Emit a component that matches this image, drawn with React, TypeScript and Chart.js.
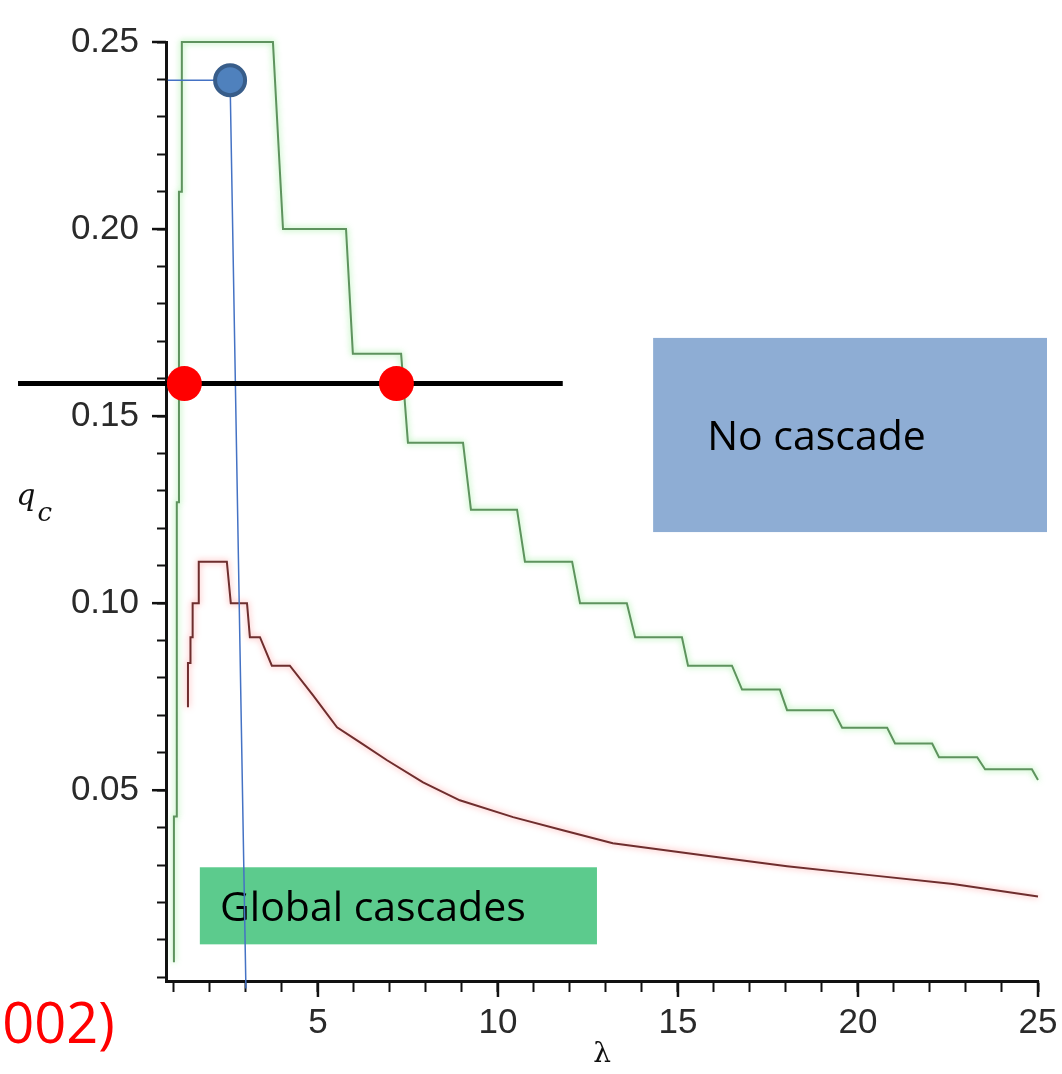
import { useEffect, useRef } from 'react';
import { Chart, registerables } from 'chart.js';

Chart.register(...registerables);

// ---- data (λ, q_c) ----
const greenLambda = [1.0, 1.0, 1.08, 1.08, 1.14, 1.14, 1.22, 1.22, 3.75, 4.03, 5.78, 5.97, 7.31, 7.5, 9.03, 9.25, 10.53, 10.75, 12.06, 12.28, 13.58, 13.81, 15.11, 15.28, 16.5, 16.78, 17.83, 18.03, 19.31, 19.56, 20.81, 21.03, 22.06, 22.25, 23.31, 23.53, 24.83, 25.0];
const greenQc = [0.004, 0.043, 0.043, 0.127, 0.127, 0.21, 0.21, 0.25, 0.25, 0.2, 0.2, 0.1667, 0.1667, 0.1429, 0.1429, 0.125, 0.125, 0.1111, 0.1111, 0.1, 0.1, 0.0909, 0.0909, 0.0833, 0.0833, 0.0769, 0.0769, 0.0714, 0.0714, 0.0667, 0.0667, 0.0625, 0.0625, 0.0588, 0.0588, 0.0556, 0.0556, 0.0527];

const redLambda = [1.39, 1.39, 1.46, 1.46, 1.52, 1.52, 1.69, 1.69, 2.47, 2.58, 3.03, 3.11, 3.39, 3.72, 4.22, 4.86, 5.53, 6.17, 6.92, 7.92, 8.94, 10.42, 11.8, 13.19, 15.69, 18.03, 20.33, 22.64, 25.0];
const redQc = [0.0722, 0.084, 0.084, 0.0909, 0.0909, 0.1, 0.1, 0.1111, 0.1111, 0.1, 0.1, 0.0909, 0.0909, 0.0833, 0.0833, 0.0754, 0.0668, 0.0628, 0.058, 0.0521, 0.0473, 0.0428, 0.0393, 0.0358, 0.0326, 0.0297, 0.0273, 0.0249, 0.0216];

const thresholdLambda = [-3.33, 11.8];
const thresholdQc = [0.1587, 0.1587];
const crossingLambda = [1.29, 7.18];
const crossingQc = [0.1587, 0.1587];
const guideLambda = [0.83, 2.56, 3.0];
const guideQc = [0.2398, 0.2398, -0.003];
const markerLambda = [2.56];
const markerQc = [0.2398];

// ---- ticks ----
const xTickValues = [1, 2, 3, 4, 5, 6, 7, 8, 9, 10, 11, 12, 13, 14, 15, 16, 17, 18, 19, 20, 21, 22, 23, 24, 25];
const xLabelValues = [5, 10, 15, 20, 25];
const xTickLabels = ['5', '10', '15', '20', '25'];
const yTickValues = [0, 0.01, 0.02, 0.03, 0.04, 0.05, 0.06, 0.07, 0.08, 0.09, 0.1, 0.11, 0.12, 0.13, 0.14, 0.15, 0.16, 0.17, 0.18, 0.19, 0.2, 0.21, 0.22, 0.23, 0.24, 0.25];
const yLabelValues = [0.05, 0.1, 0.15, 0.2, 0.25];
const yTickLabels = ['0.05', '0.10', '0.15', '0.20', '0.25'];

// ---- annotations (data units) ----
const noCascadeBox = [14.31, 25.25, 0.119, 0.1709];
const noCascadeText = { text: 'No cascade', x: 15.81, y: 0.1409 };
const globalBox = [1.72, 12.75, 0.0088, 0.0294];
const globalText = { text: 'Global cascades', x: 2.28, y: 0.015 };
const citation = { text: '(2002)', x: -0.64, y: -0.0177 };
const yTitle = { main: 'q', sub: 'c', x: -3.38, y: 0.1262 };

const pts = (xs: number[], ys: number[]) => xs.map((x, i) => ({ x, y: ys[i] }));
const findIdx = (arr: number[], v: number) => arr.findIndex((a) => Math.abs(a - v) < 1e-9);

const overlayPlugin = {
  id: 'overlay',
  beforeDatasetDraw(chart: any, args: any) {
    const ds = chart.data.datasets[args.index];
    if (ds.glow) {
      chart.ctx.save();
      chart.ctx.shadowColor = ds.glow;
      chart.ctx.shadowBlur = 6;
    }
  },
  afterDatasetDraw(chart: any, args: any) {
    const ds = chart.data.datasets[args.index];
    if (ds.glow) chart.ctx.restore();
  },
  beforeDatasetsDraw(chart: any) {
    const { ctx, scales } = chart;
    const x = scales.x;
    const y = scales.y;
    ctx.save();
    const box = (b: number[], color: string) => {
      const x0 = x.getPixelForValue(b[0]);
      const x1 = x.getPixelForValue(b[1]);
      const y0 = y.getPixelForValue(b[3]);
      const y1 = y.getPixelForValue(b[2]);
      ctx.fillStyle = color;
      ctx.fillRect(x0, y0, x1 - x0, y1 - y0);
    };
    box(noCascadeBox, '#8EADD4');
    box(globalBox, '#5CCB8D');
    ctx.fillStyle = '#000';
    ctx.font = '41px "Open Sans"';
    ctx.textAlign = 'left';
    ctx.textBaseline = 'alphabetic';
    ctx.fillText(noCascadeText.text, x.getPixelForValue(noCascadeText.x), y.getPixelForValue(noCascadeText.y));
    ctx.fillText(globalText.text, x.getPixelForValue(globalText.x), y.getPixelForValue(globalText.y));
    ctx.restore();
  },
  afterDraw(chart: any) {
    const { ctx, scales, chartArea } = chart;
    const x = scales.x;
    const y = scales.y;
    ctx.save();
    // longer major ticks
    ctx.strokeStyle = '#111';
    ctx.lineWidth = 2.5;
    xLabelValues.forEach((v) => {
      const px = x.getPixelForValue(v);
      ctx.beginPath();
      ctx.moveTo(px, chartArea.bottom);
      ctx.lineTo(px, chartArea.bottom + 16);
      ctx.stroke();
    });
    yLabelValues.forEach((v) => {
      const py = y.getPixelForValue(v);
      ctx.beginPath();
      ctx.moveTo(chartArea.left, py);
      ctx.lineTo(chartArea.left - 14, py);
      ctx.stroke();
    });
    // y title q_c
    ctx.fillStyle = '#111';
    ctx.textAlign = 'left';
    ctx.textBaseline = 'alphabetic';
    ctx.font = 'italic 30px "DejaVu Serif"';
    const tx = x.getPixelForValue(yTitle.x);
    const ty = y.getPixelForValue(yTitle.y);
    ctx.fillText(yTitle.main, tx, ty);
    const w = ctx.measureText(yTitle.main).width;
    ctx.font = 'italic 26px "DejaVu Serif"';
    ctx.fillText(yTitle.sub, tx + w + 2, ty + 16);
    // citation
    ctx.fillStyle = '#FF0000';
    ctx.font = '56px "Open Sans"';
    ctx.textAlign = 'right';
    ctx.fillText(citation.text, x.getPixelForValue(citation.x), y.getPixelForValue(citation.y));
    ctx.restore();
  },
};

export default function App() {
  const ref = useRef<HTMLCanvasElement>(null);
  useEffect(() => {
    const canvas = ref.current;
    if (!canvas) return;
    const tickFont = { family: '"Liberation Sans"', size: 35 };
    const chart = new Chart(canvas, {
      type: 'scatter',
      data: {
        datasets: [
          {
            label: 'marker',
            data: pts(markerLambda, markerQc),
            showLine: false,
            pointRadius: 15,
            pointBackgroundColor: '#4F81BD',
            pointBorderColor: '#385D8A',
            pointBorderWidth: 4,
            order: 0,
            clip: false,
          } as any,
          {
            label: 'crossings',
            data: pts(crossingLambda, crossingQc),
            showLine: false,
            pointRadius: 17.5,
            pointBackgroundColor: '#FF0000',
            pointBorderWidth: 0,
            order: 1,
            clip: false,
          } as any,
          {
            label: 'threshold',
            data: pts(thresholdLambda, thresholdQc),
            showLine: true,
            borderColor: '#000000',
            borderWidth: 5,
            pointRadius: 0,
            order: 2,
            clip: false,
          } as any,
          {
            label: 'guide',
            data: pts(guideLambda, guideQc),
            showLine: true,
            borderColor: '#4472C4',
            borderWidth: 1.5,
            pointRadius: 0,
            order: 3,
            clip: false,
          } as any,
          {
            label: 'green',
            data: pts(greenLambda, greenQc),
            showLine: true,
            borderColor: '#5E935E',
            borderWidth: 2,
            pointRadius: 0,
            order: 4,
            clip: false,
            glow: 'rgba(110,230,110,0.8)',
          } as any,
          {
            label: 'red',
            data: pts(redLambda, redQc),
            showLine: true,
            borderColor: '#6E2E2E',
            borderWidth: 2,
            pointRadius: 0,
            order: 5,
            clip: false,
            glow: 'rgba(255,120,120,0.8)',
          } as any,
        ],
      },
      options: {
        animation: false,
        responsive: true,
        maintainAspectRatio: false,
        events: [],
        layout: { padding: { left: 0, right: 24, top: 42, bottom: 0 } },
        plugins: { legend: { display: false }, tooltip: { enabled: false } },
        scales: {
          x: {
            type: 'linear',
            min: 0.78,
            max: 25,
            afterBuildTicks: (s: any) => {
              s.ticks = xTickValues.map((v) => ({ value: v }));
            },
            afterFit: (s: any) => {
              s.height = 93;
              s.paddingLeft = 0;
              s.paddingRight = 0;
            },
            ticks: {
              autoSkip: false,
              maxRotation: 0,
              padding: 10,
              color: '#2a2a2a',
              font: tickFont,
              callback: (v: any) => {
                const i = findIdx(xLabelValues, Number(v));
                return i >= 0 ? xTickLabels[i] : '';
              },
            },
            grid: { drawOnChartArea: false, drawTicks: true, tickLength: 11, tickWidth: 2, tickColor: '#111' },
            border: { display: true, color: '#111', width: 3 },
            title: {
              display: true,
              text: 'λ',
              color: '#111',
              font: { family: '"DejaVu Serif"', size: 28 },
              padding: { top: 0, bottom: 2 },
            },
          },
          y: {
            type: 'linear',
            min: -0.001,
            max: 0.25,
            afterBuildTicks: (s: any) => {
              s.ticks = yTickValues.map((v) => ({ value: v }));
            },
            afterFit: (s: any) => {
              s.width = 166;
              s.paddingTop = 0;
              s.paddingBottom = 0;
            },
            ticks: {
              autoSkip: false,
              padding: 18,
              color: '#2a2a2a',
              font: tickFont,
              callback: (v: any) => {
                const i = findIdx(yLabelValues, Number(v));
                return i >= 0 ? yTickLabels[i] : '';
              },
            },
            grid: { drawOnChartArea: false, drawTicks: true, tickLength: 9, tickWidth: 2, tickColor: '#111' },
            border: { display: true, color: '#111', width: 3 },
          },
        },
      },
      plugins: [overlayPlugin],
    } as any);
    return () => chart.destroy();
  }, []);
  return (
    <div style={{ position: 'absolute', left: 0, top: 0, width: 1062, height: 1074, background: '#ffffff' }}>
      <canvas ref={ref} />
    </div>
  );
}
